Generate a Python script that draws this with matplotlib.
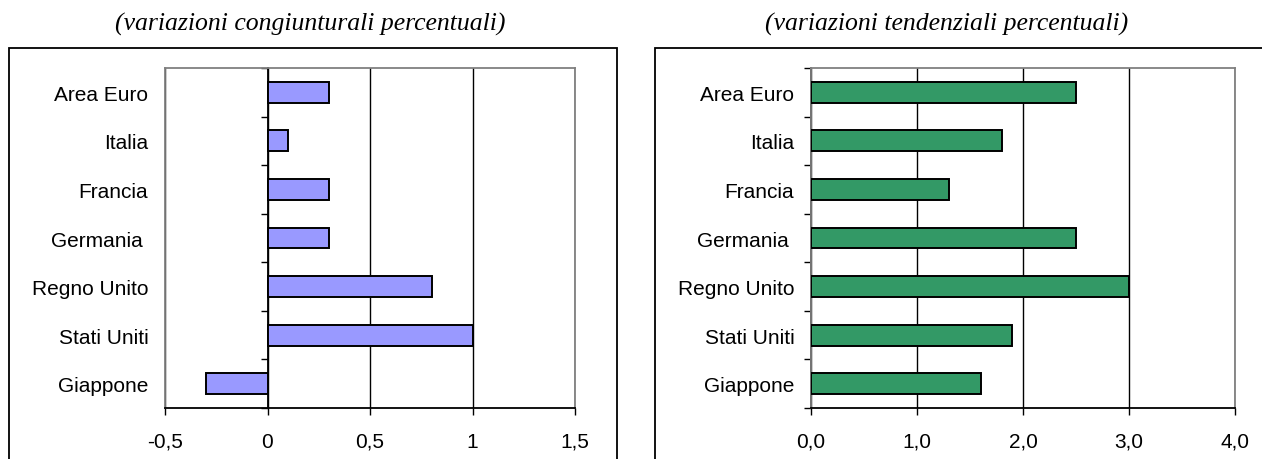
import matplotlib
matplotlib.use("Agg")
import matplotlib.pyplot as plt
from matplotlib.patches import Rectangle
import numpy as np

# dati
paesi = ["Area Euro", "Italia", "Francia", "Germania ", "Regno Unito", "Stati Uniti", "Giappone"]
congiunturali = [0.3, 0.1, 0.3, 0.3, 0.8, 1.0, -0.3]
tendenziali = [2.5, 1.8, 1.3, 2.5, 3.0, 1.9, 1.6]
titoli = ["(variazioni congiunturali percentuali)", "(variazioni tendenziali percentuali)"]
xticks_sx = [-0.5, 0, 0.5, 1, 1.5]
xlabels_sx = ["-0,5", "0", "0,5", "1", "1,5"]
xticks_dx = [0.0, 1.0, 2.0, 3.0, 4.0]
xlabels_dx = ["0,0", "1,0", "2,0", "3,0", "4,0"]

plt.rcParams["font.family"] = ["Liberation Sans", "DejaVu Sans"]

W, H = 1262, 460
fig = plt.figure(figsize=(W / 100, H / 100), dpi=100)


def px_axes(x0, x1, y0, y1):
    return fig.add_axes([x0 / W, 1 - y1 / H, (x1 - x0) / W, (y1 - y0) / H])


def pannello(ax, valori, colore, xticks, xlabels):
    y = np.arange(len(paesi))
    ax.barh(y, valori, height=0.43, color=colore, edgecolor="black", linewidth=1.4, zorder=3)
    ax.set_ylim(len(paesi) - 0.5, -0.5)
    ax.set_xlim(xticks[0], xticks[-1])
    ax.set_yticks(y)
    ax.set_yticklabels(paesi, fontsize=15)
    ax.tick_params(axis="y", length=0, pad=12)
    ax.set_xticks(xticks)
    ax.set_xticklabels(xlabels, fontsize=15)
    ax.tick_params(axis="x", direction="out", length=5, width=1, pad=12, color="black")
    ax.grid(axis="x", color="black", linewidth=1)
    ax.set_axisbelow(True)
    for s in ["top", "right", "left"]:
        ax.spines[s].set_color("#808080")
        ax.spines[s].set_linewidth(1.3)
    ax.spines["bottom"].set_color("black")
    ax.spines["bottom"].set_linewidth(1.3)
    # asse verticale nello zero con tacche tra le categorie
    sec = ax.secondary_yaxis(0, transform=ax.transData)
    sec.set_yticks(np.arange(len(paesi) + 1) - 0.5)
    sec.set_yticklabels([])
    sec.tick_params(direction="out", length=5, width=1, color="black")
    sec.spines["left"].set_color("black")
    sec.spines["left"].set_linewidth(1.3)


ax1 = px_axes(165, 575, 69, 409)
pannello(ax1, congiunturali, "#9999FF", xticks_sx, xlabels_sx)
ax2 = px_axes(811, 1235, 69, 409)
pannello(ax2, tendenziali, "#339966", xticks_dx, xlabels_dx)

# cornici esterne
for x0, x1 in [(9, 617), (655, 1275)]:
    fig.patches.append(Rectangle((x0 / W, -0.1), (x1 - x0) / W, 1.1 - 49 / H,
                                 transform=fig.transFigure, fill=False,
                                 edgecolor="black", linewidth=1.3))

fig.text(310 / W, 1 - 24 / H, titoli[0], ha="center", va="center", fontsize=18.5,
         style="italic", family=["Liberation Serif", "DejaVu Serif"])
fig.text(947 / W, 1 - 24 / H, titoli[1], ha="center", va="center", fontsize=18.5,
         style="italic", family=["Liberation Serif", "DejaVu Serif"])

fig.savefig("out.png", dpi=100)
